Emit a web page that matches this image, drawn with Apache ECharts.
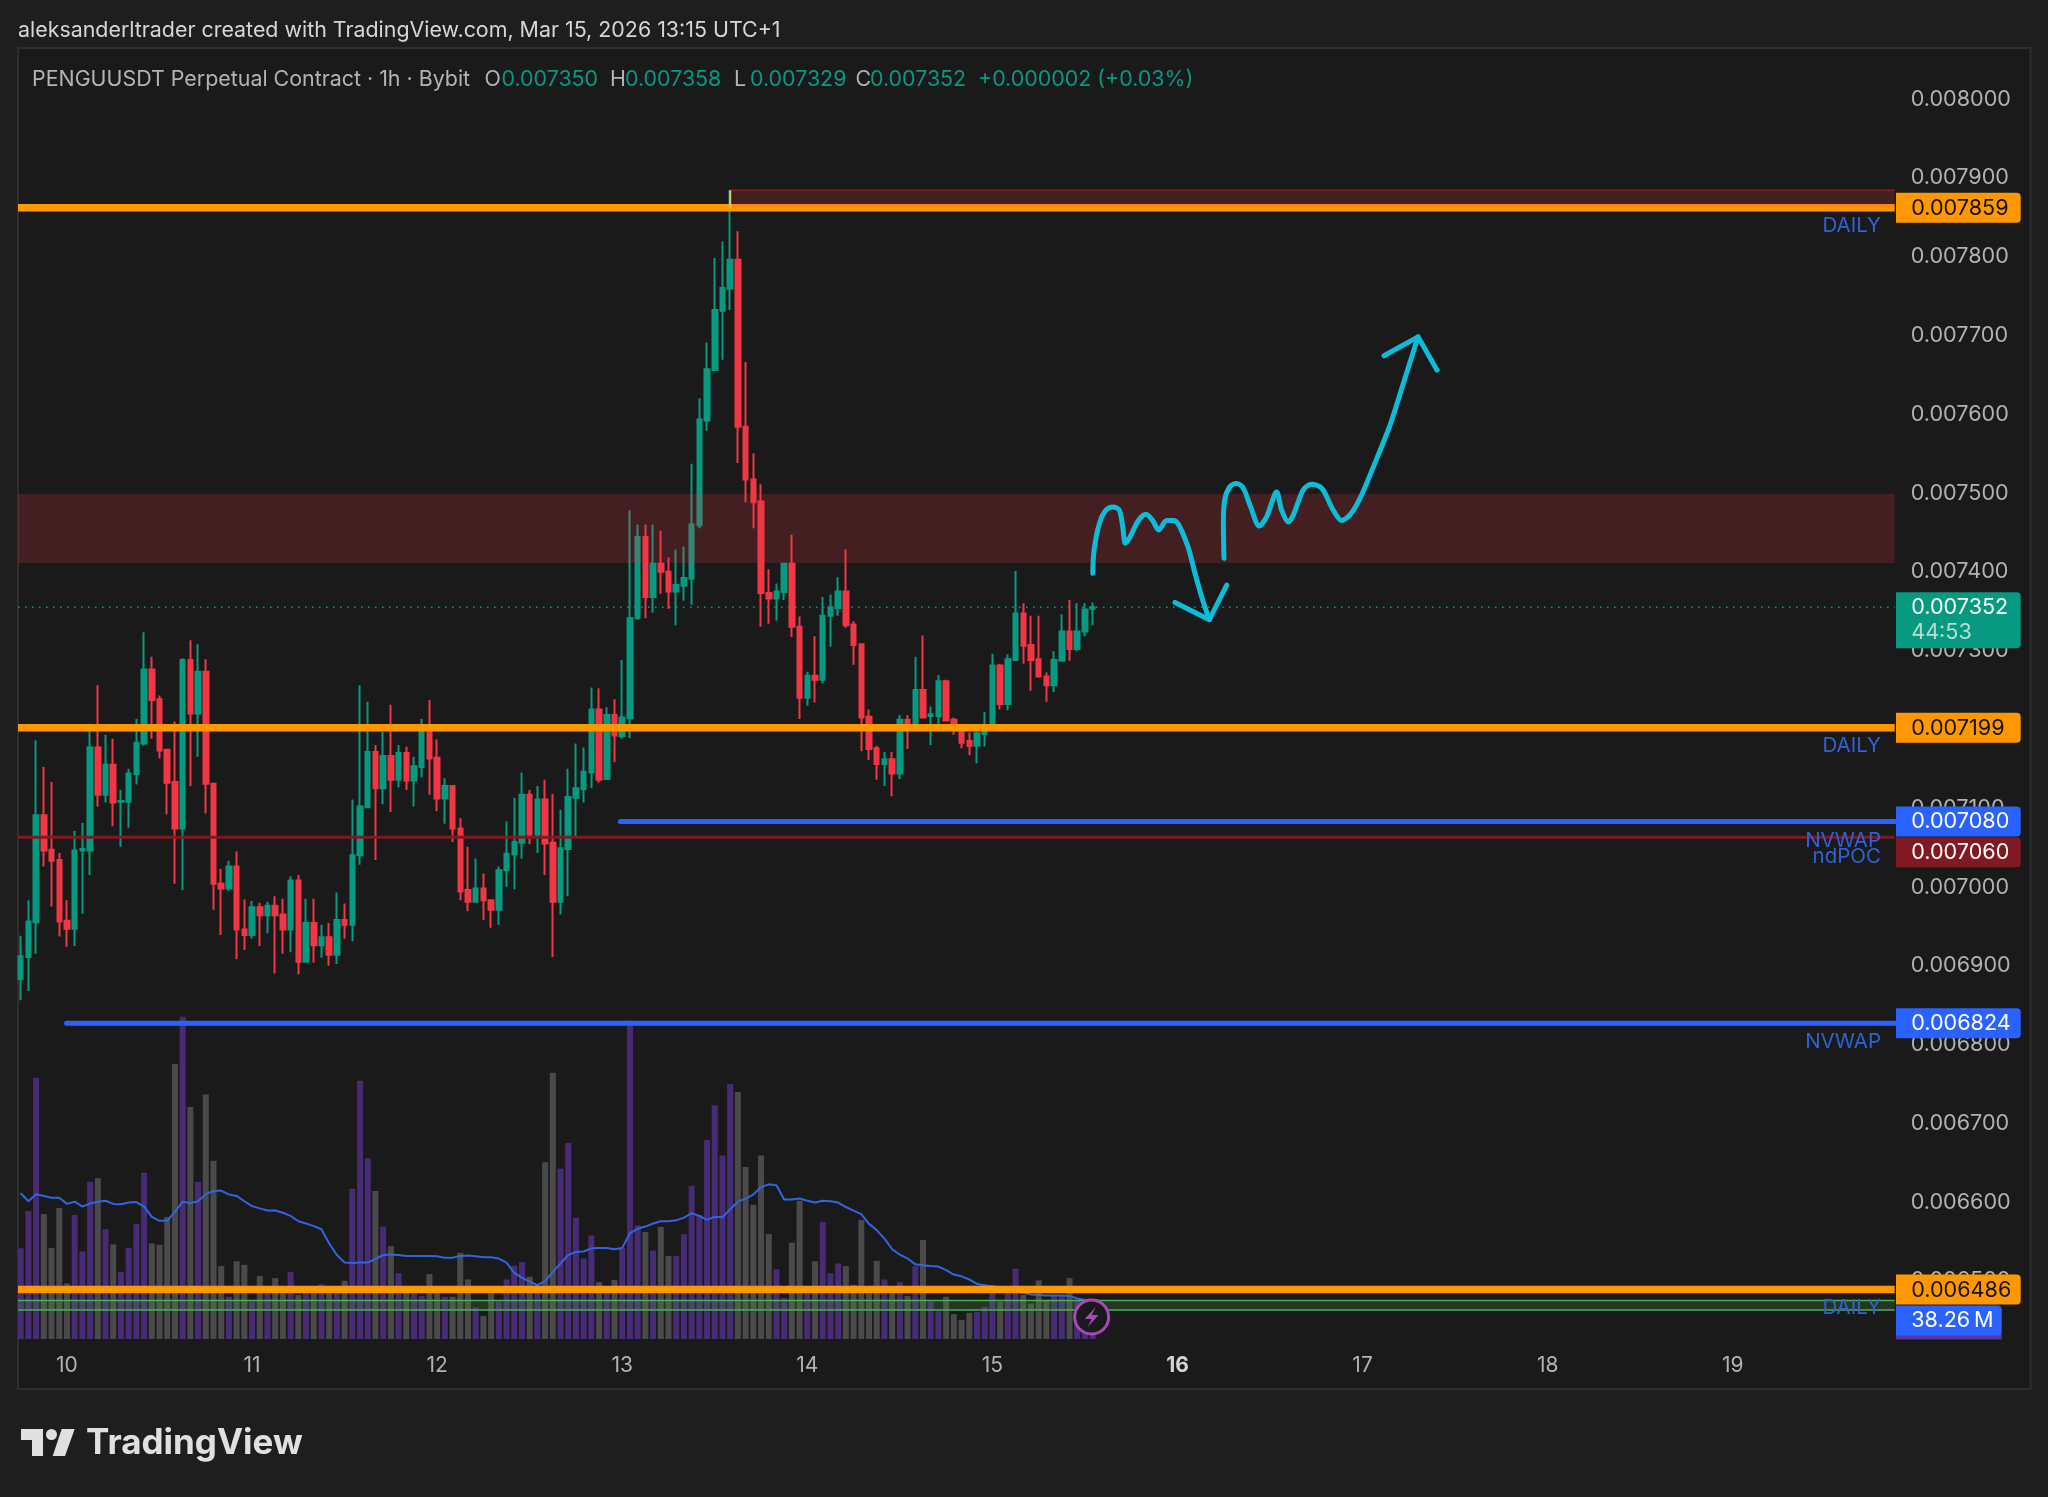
<!DOCTYPE html>
<html><head><meta charset="utf-8">
<style>html,body{margin:0;padding:0;background:#1e1e1e}#c{width:2048px;height:1497px}</style>
<script src="https://cdn.jsdelivr.net/npm/echarts@6/dist/echarts.min.js"></script>
</head><body><div id="c"></div>
<script>
// Prices are in millionths of USDT (7350 = 0.007350)
const opens=[6880,6908,6952,7088,7044,7031,6954,6944,7043,7043,7174,7114,7152,7105,7105,7140,7179,7273,7235,7171,7130,7071,7285,7217,7270,7128,7001,6995,7023,6943,6936,6971,6961,6973,6962,6943,7005,6902,6951,6923,6933,6911,6955,6949,7037,7098,7168,7122,7163,7133,7167,7132,7149,7194,7161,7109,7125,7071,6993,6978,6995,6980,6968,7018,7038,7053,7114,7063,7108,7053,6978,7045,7110,7121,7142,7222,7134,7215,7188,7211,7338,7441,7365,7407,7397,7372,7379,7388,7456,7589,7653,7728,7756,7793,7581,7514,7486,7370,7363,7371,7407,7327,7237,7265,7260,7341,7351,7372,7330,7305,7213,7173,7153,7159,7141,7209,7205,7247,7214,7214,7258,7209,7198,7182,7176,7191,7204,7278,7229,7285,7344,7304,7286,7264,7253,7284,7321,7299,7321,7350];
const highs=[6935,6980,7183,7149,7130,7040,6980,7068,7078,7204,7253,7190,7185,7120,7147,7210,7320,7289,7240,7171,7207,7287,7310,7305,7286,7128,7020,7030,7042,6981,6979,6977,6978,6985,6982,7010,7012,6982,6982,6949,6951,6990,6976,7108,7253,7232,7177,7194,7228,7177,7175,7162,7210,7234,7184,7135,7125,7084,7048,7033,7014,6980,7023,7080,7110,7142,7120,7125,7133,7115,7095,7147,7179,7174,7250,7249,7225,7235,7285,7475,7457,7457,7457,7449,7415,7425,7429,7534,7617,7688,7795,7816,7881,7829,7663,7547,7508,7400,7382,7408,7444,7340,7270,7315,7365,7368,7390,7425,7334,7305,7222,7176,7168,7168,7215,7215,7289,7316,7226,7266,7260,7212,7198,7193,7194,7219,7293,7280,7292,7398,7357,7341,7341,7269,7296,7343,7361,7357,7357,7358];
const lows=[6853,6865,6912,7023,6972,6934,6921,6922,6963,7012,7099,7104,7074,7048,7072,7127,7176,7185,7160,7089,7001,6993,7125,7162,7090,6968,6936,6992,6905,6917,6931,6922,6938,6887,6912,6914,6886,6902,6901,6907,6897,6899,6931,6928,7025,7098,7031,7102,7092,7123,7120,7099,7136,7114,7093,7077,7054,6980,6966,6977,6955,6945,6949,6997,6994,7033,7051,7040,7012,6908,6962,6985,7059,7104,7122,7129,7134,7155,7185,7186,7336,7338,7345,7369,7350,7329,7360,7355,7452,7576,7653,7666,7729,7535,7485,7452,7327,7331,7335,7361,7314,7210,7227,7231,7255,7302,7341,7326,7279,7169,7158,7133,7125,7112,7134,7172,7204,7211,7177,7203,7208,7190,7173,7164,7154,7175,7204,7222,7221,7285,7280,7246,7264,7232,7244,7284,7284,7296,7315,7329];
const closes=[6909,6953,7088,7043,7030,6953,6944,7043,7045,7174,7114,7152,7104,7106,7141,7180,7273,7234,7170,7129,7071,7285,7217,7270,7128,7001,6995,7023,6943,6936,6971,6961,6973,6961,6943,7005,6902,6951,6923,6933,6911,6955,6949,7037,7099,7168,7122,7163,7133,7167,7132,7150,7194,7160,7109,7125,7071,6991,6978,6995,6980,6968,7018,7039,7054,7114,7063,7108,7052,6978,7046,7111,7122,7143,7222,7133,7215,7189,7212,7338,7441,7365,7407,7397,7372,7380,7389,7457,7590,7654,7729,7757,7793,7581,7514,7485,7370,7363,7372,7407,7327,7237,7265,7260,7341,7352,7372,7329,7304,7212,7172,7153,7159,7141,7209,7205,7247,7212,7216,7258,7208,7198,7180,7176,7192,7194,7278,7229,7286,7344,7303,7285,7264,7253,7285,7321,7299,7321,7349,7352];
// Volume in millions
const volumes=[204,288,588,281,205,295,125,279,197,354,362,247,213,151,205,259,374,215,212,275,619,725,522,353,550,401,164,95,175,167,84,142,103,137,103,151,99,107,103,123,103,110,131,338,581,406,333,253,209,148,107,103,97,146,107,95,95,194,134,71,52,103,84,134,165,173,140,118,398,599,383,441,273,181,233,128,107,133,204,716,256,241,199,252,187,187,236,345,279,448,526,413,574,556,387,302,413,236,157,92,217,311,103,175,263,148,170,164,122,268,103,176,134,103,128,97,164,223,84,65,95,56,43,59,61,72,122,84,103,158,99,80,132,88,99,99,137,88,43,38.26];
const volumeAverage=[328,310,326,322,318,318,304,309,298,305,309,311,304,303,307,308,298,275,266,266,286,309,306,310,326,333,334,325,322,310,299,294,289,289,284,277,265,260,254,247,215,189,172,171,172,172,180,189,190,189,187,187,187,187,186,183,183,187,188,186,184,184,181,172,149,138,129,121,130,151,170,189,196,197,204,205,205,202,205,238,248,253,260,265,265,267,273,283,277,268,275,274,292,309,316,325,342,348,346,314,314,316,311,307,311,310,307,297,289,281,259,245,226,202,190,181,168,166,164,163,155,145,141,134,124,121,118,114,110,107,104,100,99,98,98,98,97,91,88,84];
const dayLabels=['10','11','12','13','14','15','16','17','18','19'];
const dayTicks=[6,30,54,78,102,126,150,174,198,222];
const priceTicks=[6500,6600,6700,6800,6900,7000,7100,7200,7300,7400,7500,7600,7700,7800,7900,8000];
// Hand-drawn path: [bar position, price]
const drawnFirst=[[139.01,7395],[139.18,7424],[139.87,7458],[140.73,7475],[141.69,7479],[142.46,7475],[142.9,7454],[143.24,7433],[143.85,7441],[144.93,7462],[145.92,7470],[146.78,7462],[147.56,7450],[148.6,7462],[149.55,7462],[150.24,7455],[151.41,7427],[152.27,7395],[153.14,7365],[154.13,7336]];
const drawnFirstHead=[[149.68,7358],[154.13,7336],[156.38,7380]];
const drawnSecond=[[156.03,7414],[155.95,7458],[156.12,7488],[156.81,7505],[157.68,7509],[158.54,7503],[159.49,7479],[160.61,7455],[161.57,7467],[162.86,7498],[163.51,7475],[164.38,7460],[165.02,7469],[166.32,7501],[167.4,7508],[168.7,7503],[170.21,7475],[171.29,7462],[172.37,7469],[173.67,7490],[175.4,7530],[177.56,7583],[179.29,7636],[181.19,7695]];
const drawnSecondHead=[[176.78,7671],[181.19,7695],[183.65,7653]];
// Levels
const orangeLevels=[7859,7199,6486];
const blueLevels=[[7080,77.75],[6824,5.95]];
const pocLevel=7060;
const lastPrice=7352;
const resistanceZone=[7408,7496];
const topZone=[7860,7881];
const greenBand=[6460,6472];
const levelTexts=[['DAILY',7836],['DAILY',7176],['NVWAP',7056],['ndPOC',7035],['NVWAP',6800],['DAILY',6463]];

const P=v=>v/1e6, FONT='Inter, "Liberation Sans", sans-serif';
const XMIN=-0.35,XMAX=243,YMIN=P(6423.2),YMAX=P(8061.6),VOLMAX=2905;
const n=opens.length;
const level=(price,start,color,width,z,type,cap)=>({type:'line',data:[[start,P(price)],[XMAX,P(price)]],symbol:'none',silent:true,z,animation:false,
  lineStyle:{color,width,type:type||'solid',cap:cap||'butt'}});
const zone=(range,start,color,z)=>({type:'line',data:[],symbol:'none',silent:true,z,animation:false,
  markArea:{silent:true,z,animation:false,itemStyle:{color,borderWidth:0},data:[[{coord:[start,P(range[1])]},{coord:[XMAX,P(range[0])]}]]}});
const stroke=(pts,smooth)=>({type:'line',data:pts.map(p=>[p[0],P(p[1])]),symbol:'none',silent:true,smooth,z:30,animation:false,
  lineStyle:{color:'#0fbcd8',width:5,cap:'round',join:'round'}});

const series=[
 {type:'bar',name:'Volume',xAxisIndex:0,yAxisIndex:1,barWidth:6,z:1,animation:false,silent:true,
  data:volumes.map((v,i)=>({value:[i,v],itemStyle:{color:closes[i]>=opens[i]?'#472c75':'#4a4a4a'}}))},
 {type:'line',name:'Volume MA',xAxisIndex:0,yAxisIndex:1,data:volumeAverage.map((v,i)=>[i,v]),symbol:'none',z:2,silent:true,animation:false,lineStyle:{color:'#2f66e0',width:2}},
 {type:'candlestick',name:'PENGUUSDT',barWidth:5,z:3,silent:true,animation:false,
  data:opens.map((o,i)=>[i,P(o),P(closes[i]),P(lows[i]),P(highs[i])]),
  itemStyle:{color:'#089981',color0:'#f23645',borderColor:'#089981',borderColor0:'#f23645',borderWidth:2}},
 level(lastPrice,XMIN,'#089981',1.5,4,[1.5,5.5]),
 level(pocLevel,XMIN,'#801922',3,5),
 level(greenBand[0],XMIN,'#4caf50',1.5,6),
 level(greenBand[1],XMIN,'#4caf50',1.5,6),
 zone(greenBand,XMIN,'rgba(76,175,80,0.2)',6),
 ...blueLevels.map(b=>level(b[0],b[1],'#2962ff',5,7,'solid','round')),
 ...orangeLevels.map(v=>level(v,XMIN,'#ff9800',7.5,8)),
 zone(resistanceZone,XMIN,'rgba(242,54,69,0.2)',20),
 zone(topZone,92,'rgba(242,54,69,0.2)',20),
 level(topZone[1],92,'#801922',2,21),
 {type:'line',data:[[92,P(7881)],[92,P(7859)]],symbol:'none',silent:true,z:21,animation:false,lineStyle:{color:'#e8c76a',width:2}},
 stroke(drawnFirst,0.3),stroke(drawnFirstHead,false),stroke(drawnSecond,0.3),stroke(drawnSecondHead,false)
];

const chart=echarts.init(document.getElementById('c'),null,{renderer:'canvas'});
chart.setOption({
 animation:false,backgroundColor:'#1e1e1e',
 grid:{left:18,right:153.3,top:48,bottom:158,containLabel:false},
 xAxis:{type:'value',min:XMIN,max:XMAX,axisLine:{show:false},axisTick:{show:false,customValues:dayTicks},splitLine:{show:false},
  axisLabel:{customValues:dayTicks,margin:16,fontSize:21,fontFamily:FONT,color:'#b2b2b2',
   formatter:v=>{const d=dayLabels[dayTicks.indexOf(v)];return d==='16'?'{b|'+d+'}':d;},
   rich:{b:{fontSize:21,fontWeight:'bold',color:'#d4d4d4',fontFamily:FONT}}}},
 yAxis:[
  {type:'value',position:'right',min:YMIN,max:YMAX,scale:true,axisLine:{show:false},axisTick:{show:false},splitLine:{show:false},
   axisLabel:{customValues:priceTicks.map(P),margin:16,fontSize:21.6,fontFamily:FONT,color:'#b2b2b2',
    formatter:v=>'{a|'+v.toFixed(6)+'}',
    rich:{a:{fontSize:21.6,fontFamily:FONT,color:'#b2b2b2',padding:[5,0,0,0]}}}},
  {type:'value',min:0,max:VOLMAX,show:false,splitLine:{show:false}}
 ],
 series
});

const X=v=>chart.convertToPixel({xAxisIndex:0},v), Y=v=>chart.convertToPixel({yAxisIndex:0},P(v));
const text=(x,y,t,fill,size,extra)=>({type:'text',x,y,z:50,silent:true,style:Object.assign({text:t,fill,fontSize:size||21.4,fontFamily:FONT,verticalAlign:'middle',align:'left'},extra||{})});
const tag=(price,bg,fg,dy)=>[
 {type:'rect',z:40,silent:true,shape:{x:1896,y:Y(price)-15+(dy||0),width:124.7,height:30,r:[0,4,4,0]},style:{fill:bg}},
 text(1911.2,Y(price)+0.5+(dy||0),P(price).toFixed(6),fg,21.6)
];
const tealT='#089981',grayT='#b4b4b4',F=21.4;
const lastX=X(n-1);
chart.setOption({graphic:{elements:[
 {type:'rect',z:-5,silent:true,shape:{x:18,y:48,width:2012.5,height:1341},style:{fill:'#1a1a1a',stroke:'#2e2e2e',lineWidth:2}},
 text(18,31,'aleksanderltrader created with TradingView.com, Mar 15, 2026 13:15 UTC+1','#d6d6d6',F),
 text(32,80,'PENGUUSDT Perpetual Contract · 1h · Bybit',grayT,F),
 text(484.5,80,'O',grayT,F),text(501.5,80,P(opens[n-1]).toFixed(6),tealT,F),
 text(610,80,'H',grayT,F),text(625,80,P(highs[n-1]).toFixed(6),tealT,F),
 text(734,80,'L',grayT,F),text(750,80,P(lows[n-1]).toFixed(6),tealT,F),
 text(855.5,80,'C',grayT,F),text(870,80,P(closes[n-1]).toFixed(6),tealT,F),
 text(978,80,'+0.000002 (+0.03%)',tealT,F),
 ...levelTexts.map(t=>text(1881,Y(t[1]),t[0],'#2f62d6',20.5,{align:'right'})),
 {type:'rect',z:40,silent:true,shape:{x:1896,y:Y(lastPrice)-15,width:124.7,height:56,r:[0,4,4,0]},style:{fill:'#089981'}},
 text(1911.2,Y(lastPrice)+0.5,P(lastPrice).toFixed(6),'#ffffff',21.6),
 text(1911.2,Y(lastPrice)+25,'44:53','#b9ddd5',21.6),
 ...orangeLevels.flatMap(v=>tag(v,'#ff9800','#131313')),
 ...blueLevels.flatMap(b=>tag(b[0],'#2962ff','#ffffff')),
 ...tag(pocLevel,'#801922','#ffffff',15),
 {type:'rect',z:39,silent:true,shape:{x:1896,y:1333,width:105.7,height:6.5},style:{fill:'#5f33a8'}},
 {type:'rect',z:40,silent:true,shape:{x:1896,y:1305.5,width:105.7,height:30,r:[0,4,4,0]},style:{fill:'#2962ff'}},
 text(1911.2,1320.5,'38.26\u2009M','#ffffff',21.6),
 {type:'circle',z:45,silent:true,shape:{cx:lastX-1,cy:1317,r:17},style:{fill:'#1a1a1a',stroke:'#ab47bc',lineWidth:3}},
 {type:'polygon',z:46,silent:true,shape:{points:[[lastX+3,1307],[lastX-8,1319],[lastX-1,1319],[lastX-5,1327],[lastX+6,1315],[lastX-1,1315]]},style:{fill:'#ab47bc'}},
 {type:'polygon',z:50,silent:true,shape:{points:[[21,1429],[43,1429],[43,1456],[32,1456],[32,1440],[21,1440]]},style:{fill:'#e0e0e0'}},
 {type:'circle',z:50,silent:true,shape:{cx:51.5,cy:1434.5,r:5.5},style:{fill:'#e0e0e0'}},
 {type:'polygon',z:50,silent:true,shape:{points:[[74.7,1429],[65,1456],[52.7,1456],[61.7,1429]]},style:{fill:'#e0e0e0'}},
 text(86,1443,'TradingView','#e0e0e0',35,{fontWeight:'bold'})
]}});
</script></body></html>
